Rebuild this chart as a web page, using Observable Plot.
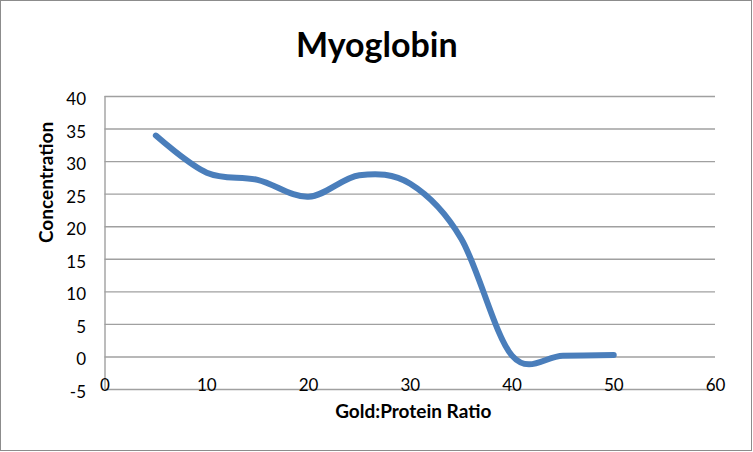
<!DOCTYPE html>
<html>
<head>
<meta charset="utf-8">
<script src="https://cdn.jsdelivr.net/npm/d3@7"></script>
<script src="https://cdn.jsdelivr.net/npm/@observablehq/plot@0.6"></script>
<style>
  body { margin: 0; background: #fff; }
  #wrap { position: relative; width: 753px; height: 452px; }
  #border { position: absolute; left: 0; top: 0; width: 752px; height: 451px; box-sizing: border-box; border: 1.5px solid #8c8c8c; pointer-events: none; }
  svg { display: block; }
</style>
</head>
<body>
<div id="wrap"><div id="border"></div></div>
<script>
const title = "Myoglobin";
const xLabel = "Gold:Protein Ratio";
const yLabel = "Concentration";
const ratio = [5, 10, 15, 20, 25, 30, 35, 40, 45, 50];
const concentration = [34, 28.3, 27.2, 24.6, 27.9, 26.6, 18.2, 0.2, 0.2, 0.3];
const xTicks = [0, 10, 20, 30, 40, 50, 60];
const yTicks = [-5, 0, 5, 10, 15, 20, 25, 30, 35, 40];

const data = ratio.map((r, i) => ({ratio: r, value: concentration[i]}));
const font = "Lato, 'Open Sans', sans-serif";
const fmt = d => String(d);

const chart = Plot.plot({
  width: 753,
  height: 452,
  marginLeft: 104.5,
  marginRight: 38,
  marginTop: 96,
  marginBottom: 63,
  style: { fontFamily: font, background: "transparent", overflow: "visible" },
  x: { domain: [0, 60], ticks: xTicks },
  y: { domain: [-5, 40], ticks: yTicks },
  marks: [
    Plot.ruleY(yTicks, { stroke: "#a0a0a0", strokeWidth: 1.4 }),
    Plot.ruleX([0], { y1: -5, y2: 40, stroke: "#a0a0a0", strokeWidth: 1.4 }),
    Plot.axisY({ ticks: yTicks, tickFormat: fmt, tickSize: 0, tickPadding: 19, fontSize: 17, dy: 3, label: null, fill: "#000" }),
    Plot.axisX({ ticks: xTicks, tickFormat: fmt, tickSize: 0, tickPadding: -11, fontSize: 17, label: null, fill: "#000" }),
    Plot.line(data, { x: "ratio", y: "value", stroke: "#4a7ebb", strokeWidth: 6, curve: "cardinal", tension: 0, strokeLinecap: "round", strokeLinejoin: "round" }),
    Plot.text([title], { frameAnchor: "top", dx: -33.5, dy: -50, fontSize: 34, fontWeight: "bold", fill: "#000", lineAnchor: "middle" }),
    Plot.text([yLabel], { frameAnchor: "left", dx: -58, rotate: -90, fontSize: 19, fontWeight: "bold", fill: "#000", lineAnchor: "middle" }),
    Plot.text([xLabel], { frameAnchor: "bottom", dx: 3, dy: 22, fontSize: 19, fontWeight: "bold", fill: "#000", lineAnchor: "middle" })
  ]
});
document.getElementById("wrap").prepend(chart);
</script>
</body>
</html>
